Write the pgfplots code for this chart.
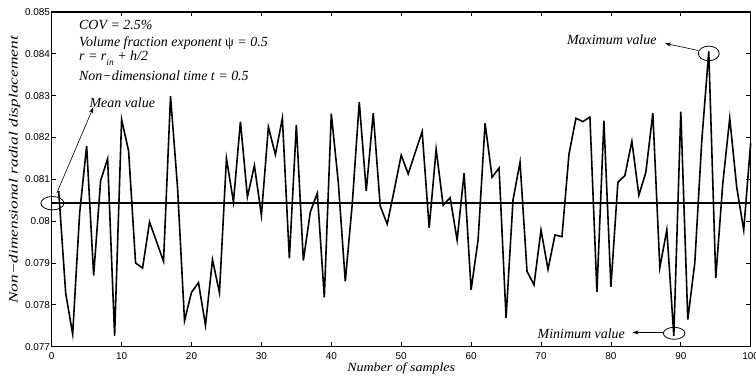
\documentclass[border=0pt]{standalone}
\usepackage{fontspec}
\setmainfont{Liberation Serif}
\newfontfamily\sansf{Liberation Sans}
\usepackage{graphicx}
\usepackage{pgfplots}
\usepackage{pgfplotstable}
\pgfplotsset{compat=1.18}
\usetikzlibrary{arrows.meta}

\pgfplotstableread{
x y
1 0.08072
2 0.07828
3 0.07730
4 0.08020
5 0.08180
6 0.07870
7 0.08097
8 0.08149
9 0.07726
10 0.08243
11 0.08168
12 0.07900
13 0.07888
14 0.07998
15 0.07951
16 0.07904
17 0.08299
18 0.08081
19 0.07762
20 0.07830
21 0.07853
22 0.07751
23 0.07908
24 0.07829
25 0.08150
26 0.08046
27 0.08238
28 0.08058
29 0.08133
30 0.08014
31 0.08225
32 0.08159
33 0.08246
34 0.07911
35 0.08230
36 0.07906
37 0.08022
38 0.08067
39 0.07818
40 0.08257
41 0.08093
42 0.07856
43 0.08042
44 0.08285
45 0.08072
46 0.08258
47 0.08036
48 0.07993
49 0.08074
50 0.08158
51 0.08113
52 0.08164
53 0.08214
54 0.07984
55 0.08172
56 0.08038
57 0.08056
58 0.07955
59 0.08115
60 0.07836
61 0.07955
62 0.08234
63 0.08105
64 0.08127
65 0.07769
66 0.08051
67 0.08141
68 0.07880
69 0.07848
70 0.07979
71 0.07885
72 0.07967
73 0.07963
74 0.08160
75 0.08246
76 0.08238
77 0.08249
78 0.07831
79 0.08240
80 0.07843
81 0.08093
82 0.08109
83 0.08191
84 0.08062
85 0.08117
86 0.08258
87 0.07889
88 0.07979
89 0.07726
90 0.08262
91 0.07765
92 0.07900
93 0.08192
94 0.08406
95 0.07864
96 0.08089
97 0.08246
98 0.08081
99 0.07979
100 0.08188
}\samples

\newcommand\ann{\fontsize{14}{16}\selectfont\itshape}

\begin{document}
\begin{tikzpicture}
\begin{axis}[
  name=ax,
  width=699bp, height=334.7bp, scale only axis,
  xmin=0, xmax=100, ymin=0.077, ymax=0.085,
  clip=false,
  xtick={0,10,...,100},
  ytick={0.077,0.078,0.079,0.080,0.081,0.082,0.083,0.084,0.085},
  yticklabels={0.077,0.078,0.079,0.08,0.081,0.082,0.083,0.084,0.085},
  scaled y ticks=false,
  tick align=inside,
  major tick length=4.5bp,
  tick style={line width=0.8bp, black},
  axis line style={line width=1.2bp},
  /pgf/number format/assume math mode=true,
  every tick label/.append style={font=\sansf\fontsize{10}{12}\selectfont, inner sep=0pt},
  xticklabel style={yshift=-5.5bp},
  yticklabel style={xshift=-1.5bp},
  xlabel={\scalebox{1.12}[1]{\fontsize{12.5}{14}\selectfont\itshape Number of samples}},
  ylabel={\scalebox{1.38}[1]{\fontsize{12.6}{14}\selectfont\itshape Non−dimensional radial displacement}},
  xlabel style={at={(axis description cs:0.5,-0.0756)}, anchor=base, inner sep=0pt},
  ylabel style={at={(axis description cs:-0.0529,0.528)}, anchor=center, inner sep=0pt},
]
\addplot[black, line width=1.6bp] table {\samples};
\addplot[black, line width=1.5bp] coordinates {(0,0.08043) (100,0.08043)};

% text block
\node[anchor=base west, inner sep=0pt] at (axis cs:3.9,0.08459) {\ann COV = 2.5\%};
\node[anchor=base west, inner sep=0pt] at (axis cs:3.9,0.08417) {\ann Volume fraction exponent {\upshape ψ} = 0.5};
\node[anchor=base west, inner sep=0pt] at (axis cs:3.9,0.08385) {\ann r = r\raisebox{-5bp}{\fontsize{9.5}{10}\selectfont in} + h/2};
\node[anchor=base west, inner sep=0pt] at (axis cs:3.9,0.08337) {\ann Non−dimensional time t = 0.5};

% mean annotation
\draw[line width=0.8bp] (axis cs:0.1,0.08043) ellipse [x radius=11.5bp, y radius=6.7bp];
\draw[-{Stealth[length=6bp,width=4bp]}, line width=0.6bp] (axis cs:0.72,0.08067) -- (axis cs:5.95,0.08272);
\node[anchor=base west, inner sep=0pt] at (axis cs:5.38,0.08272) {\ann Mean value};

% maximum annotation
\draw[line width=0.8bp] (axis cs:94.0,0.08401) ellipse [x radius=10.5bp, y radius=7.3bp];
\draw[-{Stealth[length=6bp,width=4bp]}, line width=0.6bp] (axis cs:92.5,0.08408) -- (axis cs:87.74,0.08425);
\node[anchor=base west, inner sep=0pt] at (axis cs:73.7,0.08423) {\ann Maximum value};

% minimum annotation
\draw[line width=0.8bp] (axis cs:89.05,0.07732) ellipse [x radius=10.8bp, y radius=6bp];
\draw[-{Stealth[length=6bp,width=4bp]}, line width=0.6bp] (axis cs:87.5,0.07734) -- (axis cs:83.1,0.07734);
\node[anchor=base west, inner sep=0pt] at (axis cs:69.5,0.0772) {\ann Minimum value};
\end{axis}
\pgfresetboundingbox
\path[use as bounding box] ([shift={(-51.7bp,-32.3bp)}]ax.south west) rectangle ([shift={(5.3bp,12bp)}]ax.north east);
\end{tikzpicture}
\end{document}
